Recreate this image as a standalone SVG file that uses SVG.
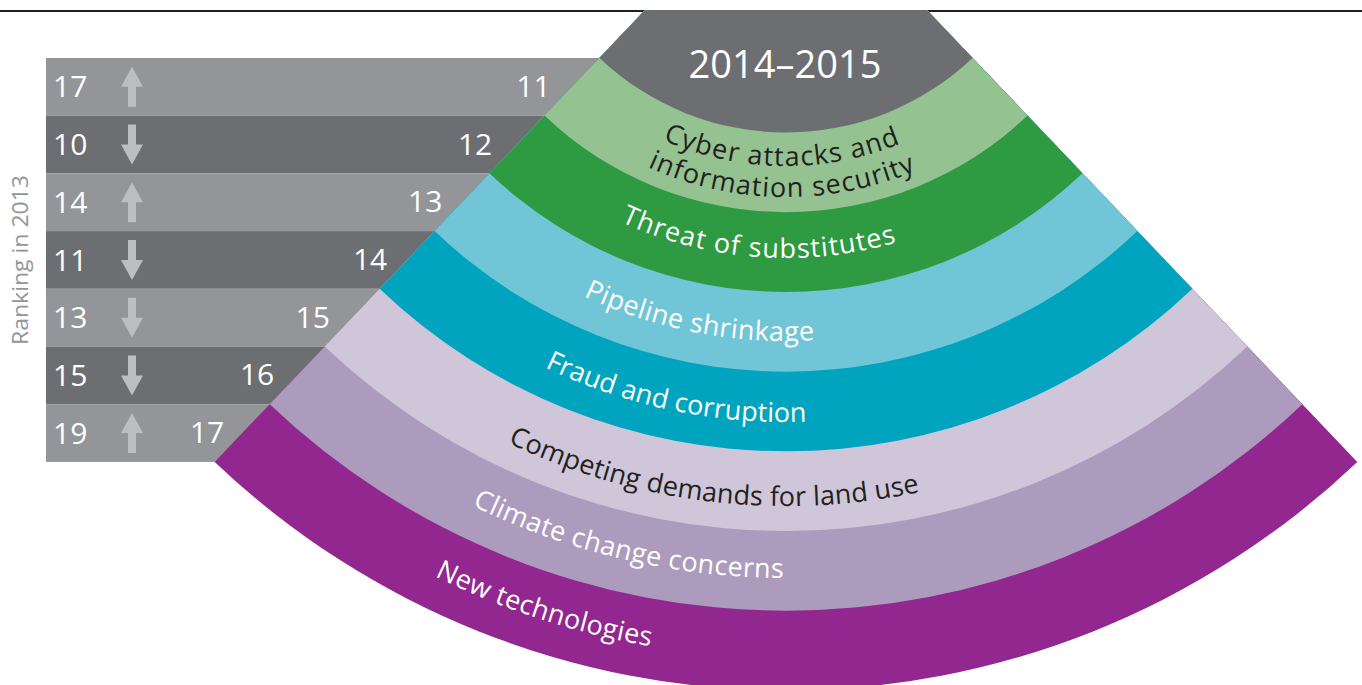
<svg xmlns="http://www.w3.org/2000/svg" width="1362" height="685" viewBox="0 0 1362 685">
<style>
  text { font-family: "Open Sans", "Noto Sans", "Liberation Sans", sans-serif; }
  .bar-light { fill: #939598; }
  .bar-dark { fill: #6d6e71; }
  .num { fill: #ffffff; font-size: 30px; }
  .num-r { fill: #ffffff; font-size: 30px; text-anchor: end; }
  .arrow { fill: #bcbec0; }
  .lbl { font-size: 27px; }
  .w { fill: #ffffff; }
  .k { fill: #231f20; }
  .axis { fill: #939598; font-size: 21px; }
  .rule { stroke: #231f20; stroke-width: 2; fill: none; }
</style>
<defs>
  <path id="up" d="M0 -20 L11 0 L4 0 L4 20 L-4 20 L-4 0 L-11 0 Z"/>
  <path id="down" d="M-4 -20 L4 -20 L4 0 L11 0 L0 20 L-11 0 L-4 0 Z"/>
  <path id="t1" d="M662.8 139.9 A304 304 0 0 0 928.7 130.4"/>
  <path id="t2" d="M647.6 167.1 A335 335 0 0 0 948.4 155"/>
  <path id="t3" d="M620.5 221.8 A396 396 0 0 0 934.3 229.2"/>
  <path id="t4" d="M583.6 296.1 A479 479 0 0 0 869.2 333.7"/>
  <path id="t5" d="M544.9 367.5 A560 560 0 0 0 863.9 416.6"/>
  <path id="t6" d="M507.7 442.8 A644 644 0 0 0 985 474.5"/>
  <path id="t7" d="M472.1 505.5 A716 716 0 0 0 860.8 574.1"/>
  <path id="t8" d="M434.6 576.2 A796 796 0 0 0 744.3 656.9"/>
</defs>

<line class="rule" x1="0" y1="11" x2="1362" y2="11"/>

<text class="axis" transform="translate(28,260) rotate(-90)" text-anchor="middle" textLength="170" lengthAdjust="spacingAndGlyphs">Ranking in 2013</text>

<g id="rows">
  <g id="row-1">
    <rect class="bar-light" x="46" y="58" width="620" height="57.6"/>
    <text class="num" x="53" y="97.3">17</text>
    <use href="#up" class="arrow" x="132" y="86.8"/>
    <text class="num-r" x="550.6" y="96.8">11</text>
  </g>
  <g id="row-2">
    <rect class="bar-dark" x="46" y="115.6" width="620" height="57.7"/>
    <text class="num" x="53" y="155">10</text>
    <use href="#down" class="arrow" x="132" y="144.5"/>
    <text class="num-r" x="492.2" y="154.5">12</text>
  </g>
  <g id="row-3">
    <rect class="bar-light" x="46" y="173.3" width="620" height="57.8"/>
    <text class="num" x="53" y="212.7">14</text>
    <use href="#up" class="arrow" x="132" y="202.2"/>
    <text class="num-r" x="442.4" y="212.2">13</text>
  </g>
  <g id="row-4">
    <rect class="bar-dark" x="46" y="231.1" width="620" height="57.7"/>
    <text class="num" x="53" y="270.5">11</text>
    <use href="#down" class="arrow" x="132" y="260"/>
    <text class="num-r" x="387.2" y="270">14</text>
  </g>
  <g id="row-5">
    <rect class="bar-light" x="46" y="288.8" width="620" height="57.7"/>
    <text class="num" x="53" y="328.2">13</text>
    <use href="#down" class="arrow" x="132" y="317.7"/>
    <text class="num-r" x="329.8" y="327.7">15</text>
  </g>
  <g id="row-6">
    <rect class="bar-dark" x="46" y="346.5" width="620" height="57.7"/>
    <text class="num" x="53" y="385.9">15</text>
    <use href="#down" class="arrow" x="132" y="375.4"/>
    <text class="num-r" x="274.2" y="385.4">16</text>
  </g>
  <g id="row-7">
    <rect class="bar-light" x="46" y="404.2" width="620" height="57.7"/>
    <text class="num" x="53" y="443.6">19</text>
    <use href="#up" class="arrow" x="132" y="433.1"/>
    <text class="num-r" x="224.2" y="443.1">17</text>
  </g>
</g>

<g id="fan">
  <g id="new-technologies">
    <path fill="#92278f" d="M645.1 10 L214.7 461.9 A828.4 828.4 0 0 0 1357.3 461.9 L926.9 10 Z"/>
    <text class="lbl w"><textPath href="#t8" textLength="227.8" lengthAdjust="spacing">New technologies</textPath></text>
  </g>
  <g id="climate-change">
    <path fill="#ac9bbd" d="M645.1 10 L269.7 404.2 A748.7 748.7 0 0 0 1302.3 404.2 L926.9 10 Z"/>
    <text class="lbl w"><textPath href="#t7" textLength="322.4" lengthAdjust="spacing">Climate change concerns</textPath></text>
  </g>
  <g id="competing-demands">
    <path fill="#cfc6da" d="M645.1 10 L324.7 346.5 A669 669 0 0 0 1247.3 346.5 L926.9 10 Z"/>
    <text class="lbl k"><textPath href="#t6" textLength="422.6" lengthAdjust="spacing">Competing demands for land use</textPath></text>
  </g>
  <g id="fraud-corruption">
    <path fill="#00a4bf" d="M645.1 10 L379.6 288.8 A589.3 589.3 0 0 0 1192.4 288.8 L926.9 10 Z"/>
    <text class="lbl w"><textPath href="#t5" textLength="269.8" lengthAdjust="spacing">Fraud and corruption</textPath></text>
  </g>
  <g id="pipeline-shrinkage">
    <path fill="#70c6d6" d="M645.1 10 L434.6 231.1 A509.6 509.6 0 0 0 1137.4 231.1 L926.9 10 Z"/>
    <text class="lbl w"><textPath href="#t4" textLength="237.4" lengthAdjust="spacing">Pipeline shrinkage</textPath></text>
  </g>
  <g id="threat-substitutes">
    <path fill="#2e9a41" d="M645.1 10 L489.5 173.3 A429.9 429.9 0 0 0 1082.5 173.3 L926.9 10 Z"/>
    <text class="lbl w"><textPath href="#t3" textLength="282.7" lengthAdjust="spacing">Threat of substitutes</textPath></text>
  </g>
  <g id="cyber-attacks">
    <path fill="#94c291" d="M645.1 10 L544.5 115.6 A350.2 350.2 0 0 0 1027.5 115.6 L926.9 10 Z"/>
    <text class="lbl k"><textPath href="#t1" textLength="244.1" lengthAdjust="spacing">Cyber attacks and</textPath></text>
    <text class="lbl k"><textPath href="#t2" textLength="276" lengthAdjust="spacing">information security</textPath></text>
  </g>
  <g id="period">
    <path fill="#6d6e71" d="M645.1 10 L599.5 57.9 A270.5 270.5 0 0 0 972.5 57.9 L926.9 10 Z"/>
    <text x="785" y="78" fill="#ffffff" font-size="38" text-anchor="middle">2014–2015</text>
  </g>
</g>
</svg>
